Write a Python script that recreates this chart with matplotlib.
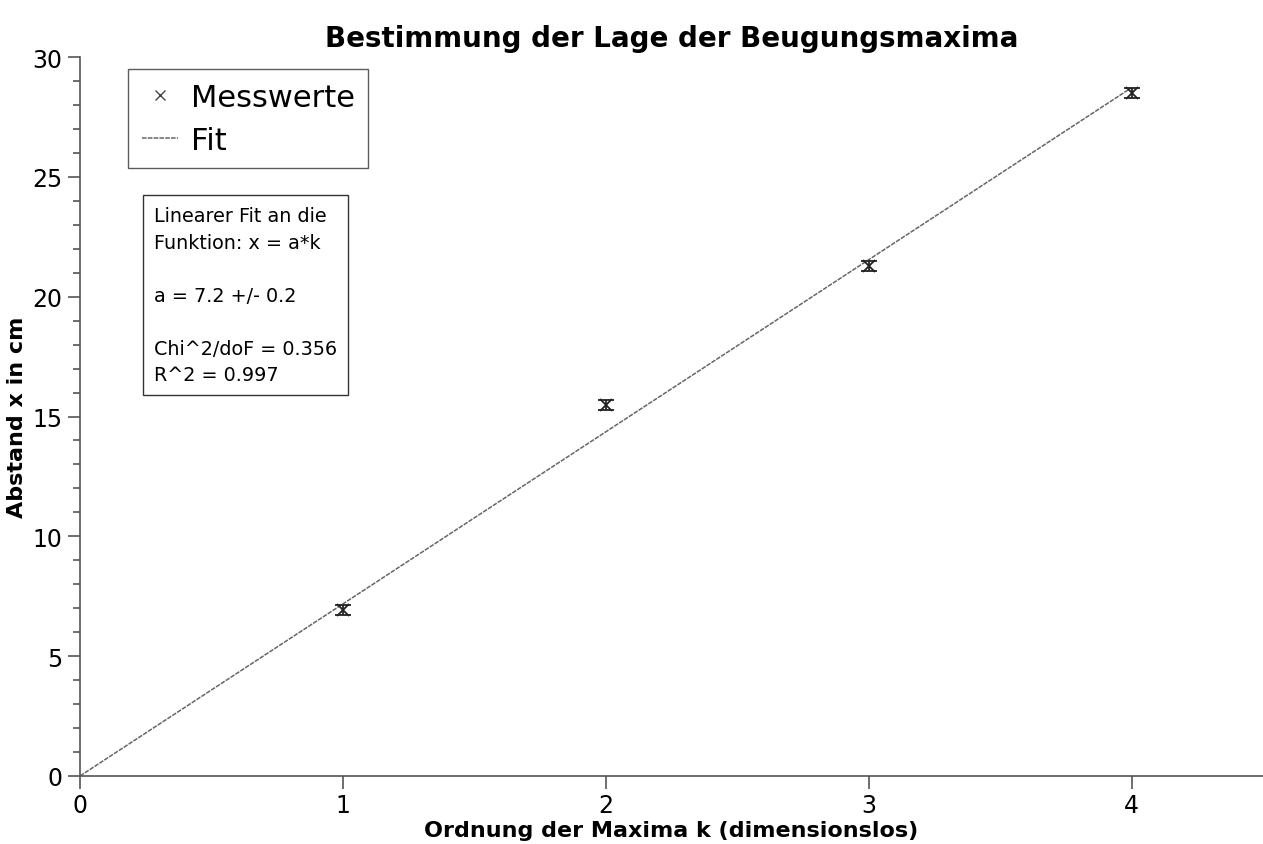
import numpy as np
import matplotlib
matplotlib.use("Agg")
import matplotlib.pyplot as plt
from matplotlib.ticker import MultipleLocator

# measured data
k_vals = [1, 2, 3, 4]
x_vals = [6.93, 15.48, 21.28, 28.49]
x_err = [0.2, 0.2, 0.2, 0.2]
fit_a = 7.18
fit_text = ("Linearer Fit an die\nFunktion: x = a*k\n\na = 7.2 +/- 0.2\n\n"
            "Chi^2/doF = 0.356\nR^2 = 0.997")

plt.rcParams["font.family"] = ["DejaVu Sans"]

fig = plt.figure(figsize=(12.63, 8.45), dpi=100)
ax = fig.add_axes([80 / 1263, 1 - 777 / 845, 1 - 80 / 1263, (777 - 58) / 845])

k_fit = np.array([0, 4])
ax.plot(k_fit, fit_a * k_fit, color="#666666", lw=1.1, ls=(0, (3, 0.8)), label="Fit", zorder=2)
ax.errorbar(k_vals, x_vals, yerr=x_err, fmt="x", color="#222222", ms=9, mew=1.3,
            ecolor="#222222", elinewidth=1.3, capsize=6, capthick=1.3, zorder=3)
ax.plot([], [], "x", color="#444444", ms=7, mew=1, label="Messwerte")

ax.set_xlim(0, 4.5)
ax.set_ylim(0, 30)
ax.xaxis.set_major_locator(MultipleLocator(1))
ax.yaxis.set_major_locator(MultipleLocator(5))
ax.yaxis.set_minor_locator(MultipleLocator(1))
for s in ["top", "right"]:
    ax.spines[s].set_visible(False)
for s in ["left", "bottom"]:
    ax.spines[s].set_color("#555555")
    ax.spines[s].set_linewidth(1.2)
ax.tick_params(axis="both", which="major", length=9, width=1.2, color="#555555", labelsize=17, direction="out")
ax.tick_params(axis="y", which="minor", length=5, width=1.2, color="#555555")

ax.set_title("Bestimmung der Lage der Beugungsmaxima", fontsize=20, fontweight="bold", pad=8)
ax.set_xlabel("Ordnung der Maxima k (dimensionslos)", fontsize=16, fontweight="bold", labelpad=2)
ax.set_ylabel("Abstand x in cm", fontsize=16, fontweight="bold", labelpad=4)

h, l = ax.get_legend_handles_labels()
leg = ax.legend(h[::-1], l[::-1], loc="upper left", bbox_to_anchor=((128 - 80) / 1183, (777 - 70) / 719),
                fontsize=22, frameon=True, fancybox=False, edgecolor="#333333",
                handlelength=1.2, handletextpad=0.4, borderpad=0.45, labelspacing=0.45, borderaxespad=0)
leg.get_frame().set_linewidth(1.0)

ax.text((154 - 80) / 1183, (777 - 207) / 719, fit_text, transform=ax.transAxes, fontsize=13.8,
        va="top", ha="left", linespacing=1.5,
        bbox=dict(boxstyle="square,pad=0.55", fc="white", ec="#333333", lw=1.0))

fig.savefig("out.png", dpi=100)
